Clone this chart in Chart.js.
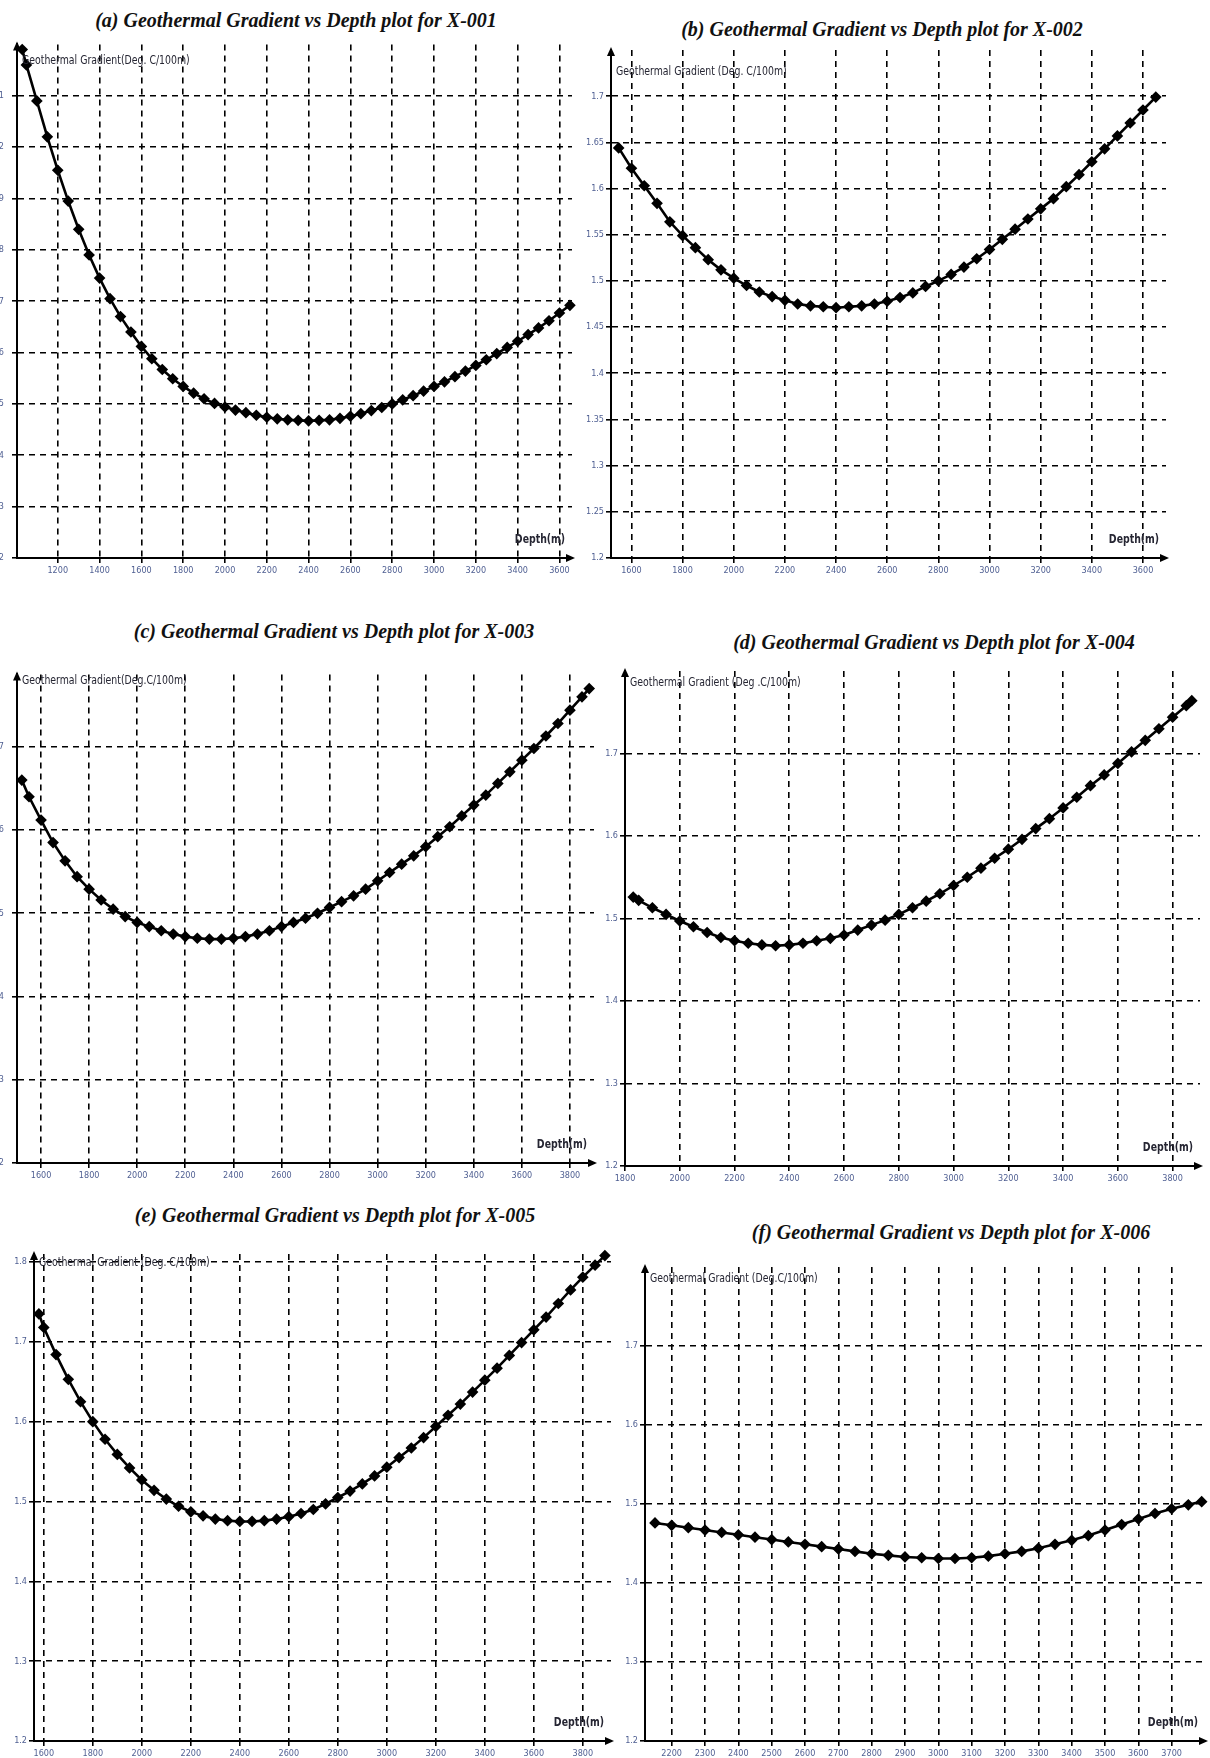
<!DOCTYPE html>
<html><head><meta charset="utf-8">
<script src="https://cdn.jsdelivr.net/npm/chart.js@4"></script>
<style>
body{margin:0;width:1210px;height:1758px;background:#fff;position:relative;overflow:hidden}
.title{position:absolute;font-family:"Liberation Serif","DejaVu Serif",serif;font-style:italic;font-weight:bold;font-size:20px;white-space:nowrap;transform:translate(-50%,-50%);color:#111}
canvas{position:absolute}
</style></head><body>
<div class="title" style="left:296px;top:20px">(a) Geothermal Gradient vs Depth plot for X-001</div>
<div class="title" style="left:882px;top:29px">(b) Geothermal Gradient vs Depth plot for X-002</div>
<div class="title" style="left:334px;top:631px">(c) Geothermal Gradient vs Depth plot for X-003</div>
<div class="title" style="left:934px;top:642px">(d) Geothermal Gradient vs Depth plot for X-004</div>
<div class="title" style="left:335px;top:1215px">(e) Geothermal Gradient vs Depth plot for X-005</div>
<div class="title" style="left:951px;top:1232px">(f) Geothermal Gradient vs Depth plot for X-006</div>
<canvas id="ca"></canvas><canvas id="cb"></canvas><canvas id="cc"></canvas>
<canvas id="cd"></canvas><canvas id="ce"></canvas><canvas id="cf"></canvas>
<script>
// ---------- data (depth in m, gradient in Deg.C/100m) ----------
const depthA = [1030,1050,1100,1150,1200,1250,1300,1350,1400,1450,1500,1550,1600,1650,1700,1750,1800,1850,1900,1950,2000,2050,2100,2150,2200,2250,2300,2350,2400,2450,2500,2550,2600,2650,2700,2750,2800,2850,2900,2950,3000,3050,3100,3150,3200,3250,3300,3350,3400,3450,3500,3550,3600,3650];
const gradA  = [2.19,2.16,2.09,2.02,1.955,1.895,1.84,1.79,1.745,1.705,1.67,1.64,1.612,1.588,1.567,1.549,1.534,1.521,1.510,1.501,1.494,1.488,1.483,1.478,1.474,1.471,1.469,1.468,1.467,1.468,1.469,1.472,1.476,1.481,1.487,1.493,1.500,1.508,1.516,1.525,1.534,1.543,1.553,1.564,1.575,1.586,1.598,1.610,1.622,1.635,1.648,1.662,1.677,1.692];

const depthB = [1550,1600,1650,1700,1750,1800,1850,1900,1950,2000,2050,2100,2150,2200,2250,2300,2350,2400,2450,2500,2550,2600,2650,2700,2750,2800,2850,2900,2950,3000,3050,3100,3150,3200,3250,3300,3350,3400,3450,3500,3550,3600,3650];
const gradB  = [1.644,1.622,1.603,1.584,1.564,1.549,1.536,1.523,1.512,1.503,1.495,1.488,1.483,1.479,1.475,1.473,1.472,1.471,1.472,1.473,1.475,1.478,1.482,1.487,1.494,1.500,1.507,1.515,1.524,1.534,1.545,1.556,1.567,1.578,1.589,1.602,1.615,1.629,1.643,1.657,1.671,1.685,1.699];

const depthC = [1520,1550,1600,1650,1700,1750,1800,1850,1900,1950,2000,2050,2100,2150,2200,2250,2300,2350,2400,2450,2500,2550,2600,2650,2700,2750,2800,2850,2900,2950,3000,3050,3100,3150,3200,3250,3300,3350,3400,3450,3500,3550,3600,3650,3700,3750,3800,3850,3880];
const gradC  = [1.660,1.640,1.612,1.585,1.563,1.544,1.529,1.516,1.505,1.496,1.489,1.484,1.479,1.475,1.472,1.470,1.469,1.469,1.470,1.472,1.475,1.479,1.484,1.489,1.494,1.500,1.507,1.514,1.521,1.529,1.539,1.549,1.559,1.569,1.580,1.592,1.604,1.617,1.630,1.642,1.656,1.670,1.684,1.698,1.713,1.728,1.744,1.760,1.770];

const depthD = [1830,1850,1900,1950,2000,2050,2100,2150,2200,2250,2300,2350,2400,2450,2500,2550,2600,2650,2700,2750,2800,2850,2900,2950,3000,3050,3100,3150,3200,3250,3300,3350,3400,3450,3500,3550,3600,3650,3700,3750,3800,3850,3870];
const gradD  = [1.526,1.522,1.513,1.505,1.497,1.490,1.483,1.477,1.473,1.470,1.468,1.467,1.468,1.470,1.473,1.476,1.480,1.486,1.492,1.498,1.505,1.513,1.521,1.530,1.540,1.550,1.561,1.573,1.584,1.596,1.609,1.621,1.634,1.647,1.661,1.674,1.688,1.702,1.716,1.730,1.744,1.758,1.764];

const depthE = [1580,1600,1650,1700,1750,1800,1850,1900,1950,2000,2050,2100,2150,2200,2250,2300,2350,2400,2450,2500,2550,2600,2650,2700,2750,2800,2850,2900,2950,3000,3050,3100,3150,3200,3250,3300,3350,3400,3450,3500,3550,3600,3650,3700,3750,3800,3850,3890];
const gradE  = [1.735,1.718,1.684,1.653,1.625,1.600,1.578,1.559,1.542,1.527,1.514,1.503,1.494,1.487,1.482,1.478,1.476,1.475,1.475,1.476,1.478,1.481,1.485,1.490,1.497,1.505,1.513,1.522,1.532,1.543,1.555,1.567,1.580,1.594,1.608,1.622,1.637,1.652,1.667,1.683,1.699,1.715,1.731,1.748,1.765,1.781,1.796,1.808];

const depthF = [2150,2200,2250,2300,2350,2400,2450,2500,2550,2600,2650,2700,2750,2800,2850,2900,2950,3000,3050,3100,3150,3200,3250,3300,3350,3400,3450,3500,3550,3600,3650,3700,3750,3790];
const gradF  = [1.476,1.473,1.470,1.467,1.464,1.461,1.458,1.455,1.452,1.449,1.446,1.443,1.440,1.437,1.435,1.433,1.432,1.431,1.431,1.432,1.434,1.437,1.440,1.444,1.449,1.454,1.460,1.467,1.474,1.481,1.488,1.494,1.499,1.503];

// ---------- tick labels ----------
const xTicksA = [1200,1400,1600,1800,2000,2200,2400,2600,2800,3000,3200,3400,3600];
const yTicksA = [1.2,1.3,1.4,1.5,1.6,1.7,1.8,1.9,2.0,2.1];
const xTicksB = [1600,1800,2000,2200,2400,2600,2800,3000,3200,3400,3600];
const yTicksB = [1.2,1.25,1.3,1.35,1.4,1.45,1.5,1.55,1.6,1.65,1.7];
const xTicksC = [1600,1800,2000,2200,2400,2600,2800,3000,3200,3400,3600,3800];
const yTicksC = [1.2,1.3,1.4,1.5,1.6,1.7];
const xTicksD = [1800,2000,2200,2400,2600,2800,3000,3200,3400,3600,3800];
const yTicksD = [1.2,1.3,1.4,1.5,1.6,1.7];
const xTicksE = [1600,1800,2000,2200,2400,2600,2800,3000,3200,3400,3600,3800];
const yTicksE = [1.2,1.3,1.4,1.5,1.6,1.7,1.8];
const xTicksF = [2200,2300,2400,2500,2600,2700,2800,2900,3000,3100,3200,3300,3400,3500,3600,3700];
const yTicksF = [1.2,1.3,1.4,1.5,1.6,1.7];

const yTitles = ["Geothermal Gradient(Deg. C/100m)","Geothermal Gradient (Deg. C/100m)","Geothermal Gradient(Deg.C/100m)","Geothermal Gradient (Deg .C/100m)","Geothermal Gradient (Deg. C/100m)","Geothermal Gradient (Deg.C/100m)"];
const xTitle = "Depth(m)";

// ---------- layout (plot area positions on the page) ----------
const YW = 40, XH = 20, PT = 8, PR = 10;
const panels = [
 {id:'ca', depth:depthA, grad:gradA, xt:xTicksA, yt:yTicksA, L:17, R:572, T:39, B:558, xmin:1005, xmax:3660, ymin:1.2, ymax:2.2, ypad:8, tOff:16, title:yTitles[0]},
 {id:'cb', depth:depthB, grad:gradB, xt:xTicksB, yt:yTicksB, L:611, R:1166, T:50, B:558, xmin:1520, xmax:3690, ymin:1.2, ymax:1.75, ypad:2, tOff:22, title:yTitles[1]},
 {id:'cc', depth:depthC, grad:gradC, xt:xTicksC, yt:yTicksC, L:17, R:594, T:669, B:1163, xmin:1500, xmax:3900, ymin:1.2, ymax:1.787, ypad:8, tOff:6, title:yTitles[2]},
 {id:'cd', depth:depthD, grad:gradD, xt:xTicksD, yt:yTicksD, L:625, R:1200, T:671, B:1166, xmin:1800, xmax:3900, ymin:1.2, ymax:1.8, ypad:2, tOff:12, title:yTitles[3]},
 {id:'ce', depth:depthE, grad:gradE, xt:xTicksE, yt:yTicksE, L:34, R:611, T:1254, B:1741, xmin:1560, xmax:3915, ymin:1.2, ymax:1.81, ypad:2, tOff:9, title:yTitles[4]},
 {id:'cf', depth:depthF, grad:gradF, xt:xTicksF, yt:yTicksF, L:645, R:1205, T:1267, B:1741, xmin:2120, xmax:3800, ymin:1.2, ymax:1.8, ypad:2, tOff:12, title:yTitles[5]}
];

const NARROW = '"Liberation Sans Narrow","DejaVu Sans Condensed","DejaVu Sans",sans-serif';

function narrowText(ctx, txt, x, y, align, sx){
  ctx.save();
  ctx.translate(x, y);
  ctx.scale(sx, 1);
  ctx.textAlign = align;
  ctx.fillText(txt, 0, 0);
  ctx.restore();
}

const decor = {
  id:'decor',
  afterDraw(chart, args, opts){
    const {ctx, chartArea:a} = chart;
    ctx.save();
    ctx.fillStyle = '#000';
    // up arrow on y axis
    ctx.beginPath(); ctx.moveTo(a.left, a.top-3); ctx.lineTo(a.left-4, a.top+6); ctx.lineTo(a.left+4, a.top+6); ctx.closePath(); ctx.fill();
    // right arrow on x axis
    ctx.beginPath(); ctx.moveTo(a.right+3, a.bottom); ctx.lineTo(a.right-6, a.bottom-4); ctx.lineTo(a.right-6, a.bottom+4); ctx.closePath(); ctx.fill();
    ctx.fillStyle = '#262633';
    ctx.font = '13px ' + NARROW;
    ctx.textBaseline = 'middle';
    narrowText(ctx, opts.ytitle, a.left+5, a.top+opts.tOff, 'left', 0.8);
    ctx.font = 'bold 13px ' + NARROW;
    narrowText(ctx, opts.xtitle, a.right-32, a.bottom-18, 'center', 0.8);
    ctx.restore();
  }
};

panels.forEach(p => {
  const cv = document.getElementById(p.id);
  const left = p.L - YW, top = p.T - PT;
  const w = p.R + PR - left, h = p.B + XH - top;
  cv.width = w; cv.height = h;
  cv.style.left = left + 'px'; cv.style.top = top + 'px';
  cv.style.width = w + 'px'; cv.style.height = h + 'px';
  const pts = p.depth.map((d,i) => ({x:d, y:p.grad[i]}));
  const gridCommon = {color:'#000', lineWidth:1.6, tickLength:5, tickColor:'#000', tickWidth:1.6};
  new Chart(cv, {
    type:'line',
    data:{datasets:[{data:pts, borderColor:'#000', borderWidth:2.6, backgroundColor:'#000',
      pointStyle:'rectRot', pointRadius:4, pointHoverRadius:4, tension:0, clip:false}]},
    plugins:[decor],
    options:{
      responsive:false, animation:false, devicePixelRatio:1,
      layout:{padding:{top:PT, right:PR, left:0, bottom:0}},
      plugins:{legend:{display:false}, tooltip:{enabled:false}, decor:{ytitle:p.title, xtitle:xTitle, tOff:p.tOff}},
      scales:{
        x:{type:'linear', min:p.xmin, max:p.xmax,
           afterBuildTicks:s => { s.ticks = p.xt.map(v => ({value:v})); },
           afterFit:s => { s.height = XH; },
           grid:gridCommon,
           border:{display:true, color:'#000', width:2, dash:[6,5]},
           ticks:{color:'#4f5f92', font:{family:NARROW, size:9}, padding:2, maxRotation:0, autoSkip:false,
                  callback:v => String(v)}},
        y:{type:'linear', min:p.ymin, max:p.ymax,
           afterBuildTicks:s => { s.ticks = p.yt.map(v => ({value:v})); },
           afterFit:s => { s.width = YW; },
           grid:gridCommon,
           border:{display:true, color:'#000', width:2, dash:[6,5]},
           ticks:{color:'#4f5f92', font:{family:NARROW, size:9}, padding:p.ypad, autoSkip:false,
                  callback:v => String(Math.round(v*100)/100)}}
      }
    }
  });
});
</script>
</body></html>
